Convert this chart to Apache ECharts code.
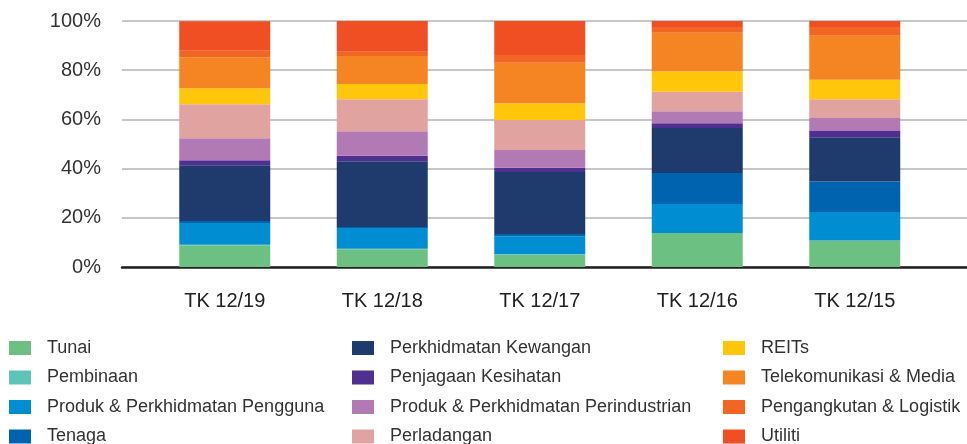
<!DOCTYPE html>
<html>
<head>
<meta charset="utf-8">
<script src="https://cdn.jsdelivr.net/npm/echarts@6/dist/echarts.min.js"></script>
<style>
html,body{margin:0;padding:0;background:#fff;}
#chart{width:967px;height:444px;}
</style>
</head>
<body>
<div id="chart"></div>
<script>
var categories = ['TK 12/19', 'TK 12/18', 'TK 12/17', 'TK 12/16', 'TK 12/15'];
var yTicks = [0, 20, 40, 60, 80, 100];

var tunai = [8.8, 7.2, 5.0, 13.8, 10.8];
var pembinaan = [0.2, 0.2, 0.2, 0, 0];
var pengguna = [8.9, 8.5, 7.3, 11.8, 11.6];
var tenaga = [0.8, 0.4, 0.9, 12.6, 12.4];
var kewangan = [22.7, 26.7, 25.2, 18.3, 17.9];
var kesihatan = [2.0, 2.2, 1.7, 1.9, 2.6];
var perindustrian = [8.9, 10.0, 7.3, 4.9, 5.3];
var perladangan = [13.9, 13.0, 12.2, 7.9, 7.6];
var reits = [6.5, 6.2, 6.8, 8.4, 7.9];
var telekom = [12.6, 11.4, 16.4, 15.6, 17.9];
var pengangkutan = [2.6, 1.7, 3.2, 2.4, 3.6];
var utiliti = [12.0, 12.5, 13.8, 2.4, 2.4];

var seriesDefs = [
  ['Tunai', tunai, '#6cc182'],
  ['Pembinaan', pembinaan, '#5fc4b8'],
  ['Produk & Perkhidmatan Pengguna', pengguna, '#008dd2'],
  ['Tenaga', tenaga, '#0063af'],
  ['Perkhidmatan Kewangan', kewangan, '#1f3b6e'],
  ['Penjagaan Kesihatan', kesihatan, '#4f2f8f'],
  ['Produk & Perkhidmatan Perindustrian', perindustrian, '#b27ab4'],
  ['Perladangan', perladangan, '#e1a39f'],
  ['REITs', reits, '#ffc60b'],
  ['Telekomunikasi & Media', telekom, '#f58423'],
  ['Pengangkutan & Logistik', pengangkutan, '#f26522'],
  ['Utiliti', utiliti, '#f04e23']
];

var FONT = '"Liberation Sans", Arial, Helvetica, sans-serif';

var series = seriesDefs.map(function (d) {
  return {
    name: d[0],
    type: 'bar',
    stack: 'total',
    xAxisIndex: 1,
    yAxisIndex: 1,
    barWidth: 91,
    data: d[1],
    itemStyle: { color: d[2] }
  };
});

function legendFor(names, left) {
  return {
    orient: 'vertical',
    left: left,
    top: 339,
    height: 130,
    padding: 0,
    itemWidth: 22,
    itemHeight: 14,
    itemGap: 11.5,
    icon: 'rect',
    selectedMode: false,
    data: names,
    textStyle: { fontFamily: FONT, fontSize: 18, color: '#333', lineHeight: 18, padding: [0, 0, 0, 11] }
  };
}

var names = seriesDefs.map(function (d) { return d[0]; });

var option = {
  animation: false,
  backgroundColor: '#fff',
  grid: [
    { left: 122, right: 0, top: 21, bottom: 177, containLabel: false },
    { left: 146, width: 787.5, top: 21, bottom: 177, containLabel: false }
  ],
  legend: [
    legendFor(names.slice(0, 4), 9),
    legendFor(names.slice(4, 8), 352),
    legendFor(names.slice(8, 12), 723)
  ],
  xAxis: [
    {
      gridIndex: 0, type: 'category', data: [''],
      axisLine: { show: true, lineStyle: { color: '#231f20', width: 2.5 } },
      axisTick: { show: false }, axisLabel: { show: false }
    },
    {
      gridIndex: 1, type: 'category', data: categories,
      axisLine: { show: false }, axisTick: { show: false },
      axisLabel: { fontFamily: FONT, fontSize: 20, color: '#222', margin: 24 }
    }
  ],
  yAxis: [
    {
      gridIndex: 0, type: 'value', min: yTicks[0], max: yTicks[yTicks.length - 1], interval: 20,
      axisLine: { show: false }, axisTick: { show: false },
      axisLabel: { fontFamily: FONT, fontSize: 20, color: '#333', margin: 21, formatter: '{value}%' },
      splitLine: { lineStyle: { color: '#b5b5b5', width: 1.5 } }
    },
    {
      gridIndex: 1, type: 'value', min: 0, max: 100, interval: 20,
      axisLine: { show: false }, axisTick: { show: false },
      axisLabel: { show: false }, splitLine: { show: false }
    }
  ],
  series: series
};

var chart = echarts.init(document.getElementById('chart'), null, { renderer: 'canvas' });
chart.setOption(option);
</script>
</body>
</html>
